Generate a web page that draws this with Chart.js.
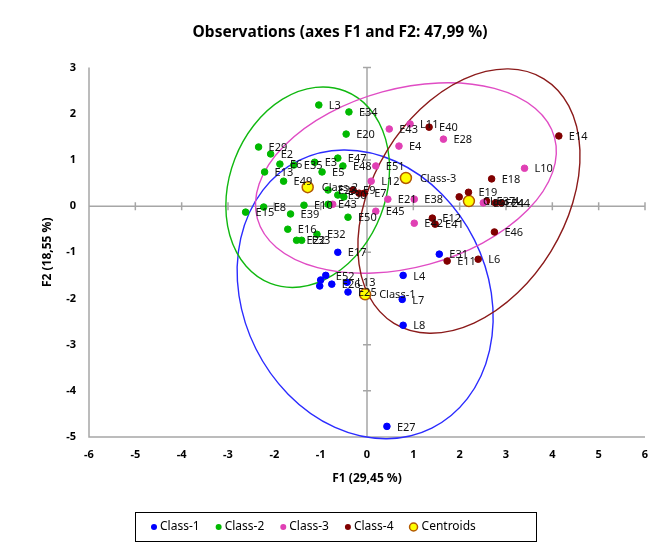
<!DOCTYPE html>
<html>
<head>
<meta charset="utf-8">
<script src="https://cdn.jsdelivr.net/npm/chart.js@4"></script>
<style>
  html, body { margin: 0; padding: 0; background: #fff; }
  #wrap { width: 660px; height: 556px; }
</style>
</head>
<body>
<div id="wrap"><canvas id="chart" width="660" height="556"></canvas></div>
<script>
// observations
const class1X = [-0.63, -0.89, -1.00, -1.02, -0.76, -0.43, -0.41, 0.78, 0.76, 0.78, 0.43, 1.56];
const class1Y = [-1.00, -1.50, -1.60, -1.73, -1.69, -1.65, -1.86, -1.50, -2.02, -2.58, -4.77, -1.04];
const class1Labels = ["E17", "E52", "", "", "E26", "L13", "E25", "L4", "L7", "L8", "E27", "E31"];

const class2X = [-1.04, -0.39, -0.45, -2.34, -2.08, -2.21, -1.88, -1.58, -1.13, -0.97, -0.63, -0.52, -1.80,
                 -0.84, -0.63, -0.50, -1.36, -0.84, -2.62, -2.23, -1.65, -0.41, -1.71, -1.08, -1.52, -1.41];
const class2Y = [2.19, 2.04, 1.56, 1.28, 1.13, 0.74, 0.91, 0.89, 0.95, 0.74, 1.04, 0.87, 0.54,
                 0.35, 0.24, 0.20, 0.02, 0.04, -0.13, -0.02, -0.17, -0.24, -0.50, -0.61, -0.74, -0.74];
const class2Labels = ["L3", "E34", "E20", "E29", "E2", "E13", "E6", "E35", "E3", "E5", "E47", "E48", "E49",
                      "E23", "E30", "", "E10", "E43", "E15", "E8", "E39", "E50", "E16", "E32", "E22", "E33"];

const class3X = [0.48, 0.93, 0.69, 1.65, 0.19, 0.09, 0.45, 1.02, 0.19, 1.02, 3.40, 2.51, -0.74];
const class3Y = [1.67, 1.78, 1.30, 1.45, 0.87, 0.54, 0.15, 0.15, -0.11, -0.37, 0.82, 0.07, 0.04];
const class3Labels = ["E43", "L11", "E4", "E28", "E51", "L12", "E21", "E38", "E45", "E42", "L10", "L9", ""];

const class4X = [1.34, 4.14, 2.69, 2.19, 1.99, 2.58, 2.77, 2.90, 1.41, 1.47, 2.75, 1.73, 2.40, -0.30, -0.17, -0.06];
const class4Y = [1.71, 1.52, 0.59, 0.30, 0.20, 0.11, 0.07, 0.07, -0.26, -0.39, -0.56, -1.19, -1.15, 0.35, 0.28, 0.28];
const class4Labels = ["E40", "E14", "E18", "E19", "", "E37", "E24", "E44", "E12", "E41", "E46", "E11", "L6", "E9", "", "E7"];

const centroidX = [-0.04, -1.28, 0.84, 2.20];
const centroidY = [-1.91, 0.41, 0.61, 0.11];
const centroidLabels = ["Class-1", "Class-2", "Class-3", "Class-4"];

// confidence ellipses: semi-axes in F1/F2 units, angle of first axis in degrees
const ellipseRx = [2.64, 2.23, 3.33, 3.10];
const ellipseRy = [3.23, 1.69, 1.93, 2.08];
const ellipseAngle = [26.5, 68.8, 15.3, 58.5];

const xTicks = [-6, 6];
const yTicks = [-5, 3];

const seriesNames = ["Class-1", "Class-2", "Class-3", "Class-4", "Centroids"];
const seriesColors = ["#0000ff", "#00b900", "#e040b4", "#800000"];
const ellipseColors = ["#2b2bff", "#10b810", "#e04cc4", "#8b1a1a"];

const pts = (xs, ys) => xs.map((v, i) => ({ x: v, y: ys[i] }));

const labelSets = [class1Labels, class2Labels, class3Labels, class4Labels, centroidLabels];

const crossAxes = {
  id: "crossAxes",
  beforeDatasetsDraw(chart) {
    const { ctx, scales: { x, y } } = chart;
    const x0 = x.getPixelForValue(0);
    const y0 = y.getPixelForValue(0);
    ctx.save();
    ctx.strokeStyle = "#a6a6a6";
    ctx.lineWidth = 1.5;
    ctx.beginPath();
    ctx.moveTo(x.left, y.top);
    ctx.lineTo(x.left, y.bottom);
    ctx.lineTo(x.right, y.bottom);
    ctx.moveTo(x.left, y0);
    ctx.lineTo(x.right, y0);
    ctx.moveTo(x0, y.top);
    ctx.lineTo(x0, y.bottom);
    x.ticks.forEach((t) => {
      const px = x.getPixelForValue(t.value);
      ctx.moveTo(px, y0 - 4);
      ctx.lineTo(px, y0 + 4);
    });
    y.ticks.forEach((t) => {
      const py = y.getPixelForValue(t.value);
      ctx.moveTo(x0 - 4, py);
      ctx.lineTo(x0 + 4, py);
    });
    ctx.stroke();
    ctx.restore();
  },
};

const ellipses = {
  id: "ellipses",
  beforeDatasetsDraw(chart) {
    const { ctx, scales: { x, y } } = chart;
    const ux = Math.abs(x.getPixelForValue(1) - x.getPixelForValue(0));
    const uy = Math.abs(y.getPixelForValue(1) - y.getPixelForValue(0));
    const u = (ux + uy) / 2;
    ctx.save();
    ctx.lineWidth = 1.4;
    centroidX.forEach((cx, i) => {
      ctx.strokeStyle = ellipseColors[i];
      ctx.beginPath();
      ctx.ellipse(x.getPixelForValue(cx), y.getPixelForValue(centroidY[i]),
        ellipseRx[i] * u, ellipseRy[i] * u, -ellipseAngle[i] * Math.PI / 180, 0, Math.PI * 2);
      ctx.stroke();
    });
    ctx.restore();
  },
};

const pointLabels = {
  id: "pointLabels",
  afterDatasetsDraw(chart) {
    const { ctx } = chart;
    ctx.save();
    ctx.font = "11px 'Noto Sans'";
    ctx.fillStyle = "#111";
    ctx.textBaseline = "middle";
    chart.data.datasets.forEach((ds, di) => {
      const meta = chart.getDatasetMeta(di);
      meta.data.forEach((el, i) => {
        const txt = labelSets[di][i];
        if (txt) ctx.fillText(txt, el.x + (di === 4 ? 14 : 10), el.y + 1);
      });
    });
    ctx.restore();
  },
};

const legendBox = {
  id: "legendBox",
  afterDraw(chart) {
    const { ctx } = chart;
    ctx.save();
    ctx.strokeStyle = "#000";
    ctx.lineWidth = 1;
    ctx.strokeRect(135.5, 512.5, 401, 29);
    ctx.font = "12px 'Noto Sans'";
    ctx.textBaseline = "middle";
    let mx = 154;
    const my = 527;
    seriesNames.forEach((name, i) => {
      ctx.beginPath();
      if (i < 4) {
        ctx.fillStyle = seriesColors[i];
        ctx.arc(mx, my, 3, 0, Math.PI * 2);
        ctx.fill();
      } else {
        ctx.fillStyle = "#ffff00";
        ctx.strokeStyle = "#b35900";
        ctx.lineWidth = 1.5;
        ctx.arc(mx + 1, my, 4, 0, Math.PI * 2);
        ctx.fill();
        ctx.stroke();
        mx += 3;
      }
      ctx.fillStyle = "#000";
      const tx = mx + 6;
      ctx.fillText(name, tx, my);
      mx = tx + ctx.measureText(name).width + 19;
    });
    ctx.restore();
  },
};

const classSet = (i, xs, ys) => ({
  label: seriesNames[i],
  data: pts(xs, ys),
  backgroundColor: seriesColors[i],
  borderColor: seriesColors[i],
  borderWidth: 1,
  pointRadius: 3.3,
});

new Chart(document.getElementById("chart"), {
  type: "scatter",
  data: {
    datasets: [
      classSet(0, class1X, class1Y),
      classSet(1, class2X, class2Y),
      classSet(2, class3X, class3Y),
      classSet(3, class4X, class4Y),
      {
        label: seriesNames[4],
        data: pts(centroidX, centroidY),
        backgroundColor: "#ffff00",
        borderColor: "#b35900",
        borderWidth: 1.5,
        pointRadius: 5.5,
      },
    ],
  },
  options: {
    responsive: false,
    animation: false,
    layout: { padding: { left: 35, right: 15, top: 0, bottom: 0 } },
    scales: {
      x: {
        type: "linear",
        min: xTicks[0],
        max: xTicks[1],
        ticks: { stepSize: 1, padding: 11, color: "#000", font: { family: "'Noto Sans'", size: 11, weight: "bold" } },
        grid: { display: false, drawTicks: false },
        border: { display: false },
        title: {
          display: true,
          text: "F1 (29,45 %)",
          color: "#000",
          font: { family: "'Noto Sans'", size: 12, weight: "bold" },
          padding: { top: 0, bottom: 70 },
        },
        afterFit(s) { s.height = 119; },
      },
      y: {
        type: "linear",
        min: yTicks[0],
        max: yTicks[1],
        ticks: { stepSize: 1, padding: 13, color: "#000", font: { family: "'Noto Sans'", size: 11, weight: "bold" } },
        grid: { display: false, drawTicks: false },
        border: { display: false },
        title: {
          display: true,
          text: "F2 (18,55 %)",
          color: "#000",
          font: { family: "'Noto Sans'", size: 12, weight: "bold" },
          padding: { top: 5, bottom: 0 },
        },
        afterFit(s) { s.width = 54; },
      },
    },
    plugins: {
      legend: { display: false },
      tooltip: { enabled: false },
      title: {
        display: true,
        text: "Observations (axes F1 and F2: 47,99 %)",
        color: "#000",
        font: { family: "'Noto Sans'", size: 15.5, weight: "bold" },
        padding: { top: 23, bottom: 26 },
      },
    },
  },
  plugins: [crossAxes, ellipses, pointLabels, legendBox],
});
</script>
</body>
</html>
